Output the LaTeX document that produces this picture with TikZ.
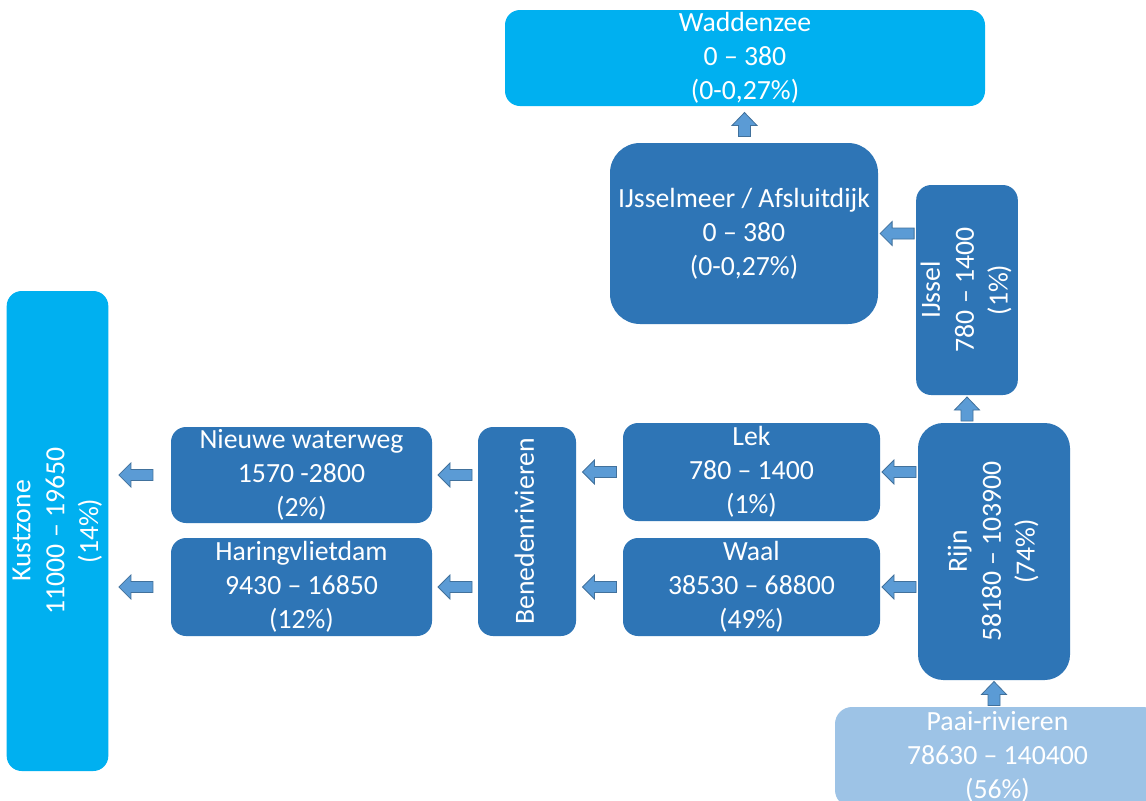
\documentclass[tikz,border=0pt]{standalone}
\usepackage{fontspec}
\setmainfont{Carlito}
\usetikzlibrary{calc}
\definecolor{dblue}{HTML}{2E75B6}
\definecolor{cyanb}{HTML}{00B0F0}
\definecolor{lblue}{HTML}{9DC3E6}
\definecolor{arrfill}{HTML}{5B9BD5}
\definecolor{arrline}{HTML}{41719C}
\newcommand\rtext[1]{\rotatebox{90}{\setlength{\tabcolsep}{0pt}\begin{tabular}{c}#1\end{tabular}}}
\tikzset{
  boxst/.style={rectangle, fill=dblue, text=white, align=center, inner sep=0pt,
    rounded corners=11.25pt, font=\fontsize{20.8}{25.4}\selectfont},
  arrowst/.style={fill=arrfill, draw=arrline, line width=0.6pt, line join=miter},
  barrowL/.pic={\draw[arrowst] (-17,0) -- (-5,-12) -- (-5,-5.5) -- (17,-5.5) -- (17,5.5) -- (-5,5.5) -- (-5,12) -- cycle;},
  barrowU/.pic={\draw[arrowst] (0,-12) -- (12.5,1) -- (6,1) -- (6,12) -- (-6,12) -- (-6,1) -- (-12.5,1) -- cycle;}
}
\begin{document}
\begin{tikzpicture}[x=0.75pt,y=-0.75pt]
\useasboundingbox (0,0) rectangle (1146,800);
\fill[white] (0,0) rectangle (1146,800);
\clip (0,0) rectangle (1146,800);

\node[boxst, fill=cyanb, minimum width=360pt, minimum height=72pt] (wad) at (745,58) {Waddenzee\\0 – 380\\(0-0,27\%)};
\node[boxst, minimum width=201pt, minimum height=135.75pt, rounded corners=22.5pt] (ijm) at (744,233.5) {IJsselmeer / Afsluitdijk\\0 – 380\\(0-0,27\%)};
\node[boxst, minimum width=73.5pt, minimum height=157.5pt] (ijssel) at (967,290) {\rtext{IJssel\\780 – 1400\\(1\%)}};
\node[boxst, minimum width=114pt, minimum height=192.75pt, rounded corners=19pt] (rijn) at (994,551.5) {\rtext{Rijn\\58180 – 103900\\(74\%)}};
\node[boxst, fill=lblue, minimum width=243.75pt, minimum height=75pt, rounded corners=12.75pt] (paai) at (997.5,757) {Paai-rivieren\\78630 – 140400\\(56\%)};
\node[boxst, minimum width=192.75pt, minimum height=73.5pt] (lek) at (751.5,472) {Lek\\780 – 1400\\(1\%)};
\node[boxst, minimum width=192.75pt, minimum height=73.5pt] (waal) at (751.5,587) {Waal\\38530 – 68800\\(49\%)};
\node[boxst, minimum width=73.5pt, minimum height=156.75pt] (ben) at (527,531.5) {\rtext{Benedenrivieren}};
\node[boxst, minimum width=195.75pt, minimum height=72pt] (nww) at (301.5,475) {Nieuwe waterweg\\1570 -2800\\(2\%)};
\node[boxst, minimum width=195.75pt, minimum height=73.5pt] (har) at (301.5,587) {Haringvlietdam\\9430 – 16850\\(12\%)};
\node[boxst, fill=cyanb, minimum width=74.25pt, minimum height=360pt] (kust) at (57.5,531) {\rtext{Kustzone\\11000 – 19650\\(14\%)}};

\path ($(ijm.north)!0.5!(wad.south)$) pic{barrowU};
\path ($(ijssel.west |- ijm.center)!0.5!(ijm.east)$) pic{barrowL};
\path ($(ijssel.south)!0.5!(rijn.north -| ijssel.south)$) pic{barrowU};
\path ($(lek.east)!0.5!(rijn.west |- lek.east)$) pic{barrowL};
\path ($(waal.east)!0.5!(rijn.west |- waal.east)$) pic{barrowL};
\path ($(lek.west)!0.5!(ben.east |- lek.west)$) pic{barrowL};
\path ($(waal.west)!0.5!(ben.east |- waal.west)$) pic{barrowL};
\path ($(nww.east)!0.5!(ben.west |- nww.east)$) pic{barrowL};
\path ($(har.east)!0.5!(ben.west |- har.east)$) pic{barrowL};
\path ($(nww.west)!0.56!(kust.east |- nww.west)$) pic{barrowL};
\path ($(har.west)!0.56!(kust.east |- har.west)$) pic{barrowL};
\path ($(paai.north -| rijn.south)!0.5!(rijn.south)$) pic{barrowU};
\end{tikzpicture}
\end{document}
